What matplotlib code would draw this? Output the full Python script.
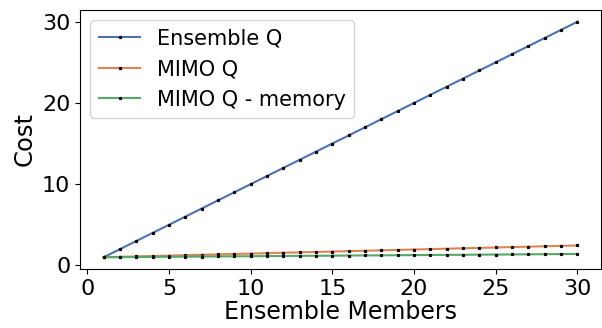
import numpy as np
import matplotlib
matplotlib.use("Agg")
import matplotlib.pyplot as plt

members = list(range(1, 31))
ensemble_q = [float(m) for m in members]
mimo_q = [1.00, 1.05, 1.10, 1.15, 1.20, 1.25, 1.30, 1.35, 1.40, 1.45,
          1.50, 1.55, 1.60, 1.65, 1.70, 1.75, 1.80, 1.85, 1.90, 1.95,
          2.00, 2.05, 2.10, 2.15, 2.20, 2.25, 2.30, 2.35, 2.40, 2.45]
mimo_q_mem = [1.00, 1.01, 1.03, 1.04, 1.06, 1.07, 1.08, 1.10, 1.11, 1.12,
              1.14, 1.15, 1.17, 1.18, 1.19, 1.21, 1.22, 1.23, 1.25, 1.26,
              1.28, 1.29, 1.30, 1.32, 1.33, 1.34, 1.36, 1.37, 1.39, 1.40]

colors = ["#4C72B0", "#DD8452", "#55A868"]
labels = ["Ensemble Q", "MIMO Q", "MIMO Q - memory"]

fig = plt.figure(figsize=(6.02, 3.28), dpi=100)
ax = fig.add_axes([80 / 602, 59 / 328, (601 - 80) / 602, (269 - 10) / 328])

for ys, c, lab in zip([ensemble_q, mimo_q, mimo_q_mem], colors, labels):
    ax.plot(members, ys, color=c, lw=1.5, marker="s", markersize=1.3,
            markerfacecolor="black", markeredgecolor="black", label=lab)

ax.set_xticks([0, 5, 10, 15, 20, 25, 30])
ax.set_yticks([0, 10, 20, 30])
ax.tick_params(labelsize=16)
ax.set_xlabel("Ensemble Members", fontsize=17, labelpad=1)
ax.set_ylabel("Cost", fontsize=17.5)
ax.legend(loc="upper left", fontsize=15)

fig.savefig("out.png", dpi=100)
